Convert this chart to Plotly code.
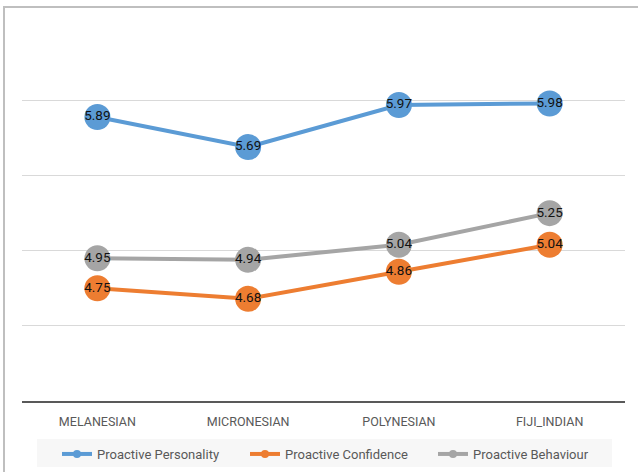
import plotly.graph_objects as go

categories = ["MELANESIAN", "MICRONESIAN", "POLYNESIAN", "FIJI_INDIAN"]
series_names = ["Proactive Personality", "Proactive Confidence", "Proactive Behaviour"]
personality = [5.89, 5.69, 5.97, 5.98]
confidence = [4.75, 4.68, 4.86, 5.04]
behaviour = [4.95, 4.94, 5.04, 5.25]
colors = ["#5B9BD5", "#ED7D31", "#A5A5A5"]

W, H = 638, 472
L, R, T, B = 22, 13, 25, 71

fig = go.Figure()
for name, vals, col in zip(series_names, [personality, confidence, behaviour], colors):
    fig.add_trace(go.Scatter(
        x=categories, y=vals, mode="lines+markers+text", name=name,
        text=[f"{v:.2f}" for v in vals], textposition="middle center",
        textfont=dict(family="Roboto, Arial, sans-serif", size=13.5, color="#111111"),
        line=dict(color=col, width=4),
        marker=dict(size=26, color=col, line=dict(width=0)),
        showlegend=False, cliponaxis=False, hoverinfo="skip",
    ))
for name, col in zip(series_names, colors):
    fig.add_trace(go.Scatter(
        x=[None], y=[None], mode="lines+markers", name=name,
        line=dict(color=col, width=4),
        marker=dict(size=8, color=col),
    ))

pw = W - L - R
ph = H - T - B
def px_x(x):
    return (x - L) / pw
def px_y(y):
    return 1 - (y - T) / ph

fig.update_layout(
    width=W, height=H,
    margin=dict(l=L, r=R, t=T, b=B, autoexpand=False),
    paper_bgcolor="white", plot_bgcolor="white",
    font=dict(family="Roboto, Arial, sans-serif", size=13, color="#595959"),
    xaxis=dict(
        type="category", range=[-0.5, 3.5], showgrid=False, zeroline=False,
        showline=True, linecolor="#595959", linewidth=2,
        ticks="", tickfont=dict(size=12.5, color="#595959"),
        ticklabelstandoff=8,
    ),
    yaxis=dict(
        range=[4, 6.502], dtick=0.5, tick0=4, showticklabels=False,
        showgrid=True, gridcolor="#D9D9D9", gridwidth=1, zeroline=False,
        showline=False, ticks="",
    ),
    legend=dict(
        orientation="h", x=px_x(57), xanchor="left", y=px_y(439), yanchor="top",
        bgcolor="rgba(0,0,0,0)", borderwidth=0, entrywidth=143,
        font=dict(family="Roboto, Arial, sans-serif", size=13, color="#595959"),
    ),
    shapes=[
        dict(
            type="rect", xref="paper", yref="paper",
            x0=px_x(4), x1=px_x(W + 10), y0=px_y(H + 10), y1=px_y(7),
            line=dict(color="#BFBFBF", width=2), fillcolor="rgba(0,0,0,0)", layer="below",
        ),
        dict(
            type="rect", xref="paper", yref="paper",
            x0=px_x(37), x1=px_x(612), y0=px_y(467), y1=px_y(439),
            line=dict(width=0), fillcolor="#F7F7F7", layer="below",
        ),
    ],
)

fig.write_html("out.html")
